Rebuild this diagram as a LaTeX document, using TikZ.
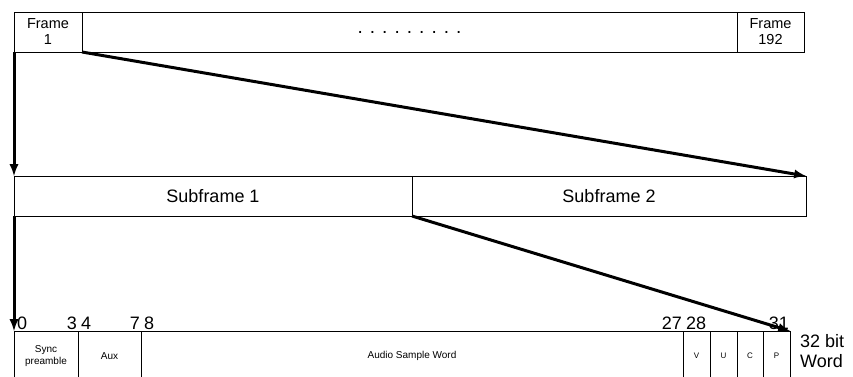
\documentclass[tikz,border=0pt]{standalone}
\usepackage{fontspec}
\setmainfont{Liberation Sans}
\usetikzlibrary{arrows}
\usetikzlibrary{positioning}

\tikzset{
  cell/.style={draw, line width=0.8pt, inner sep=0pt, outer sep=0pt, align=center},
  framebox/.style={cell, minimum height=40pt, font=\fontsize{14.5}{16}\selectfont},
  subbox/.style={cell, minimum height=40pt, font=\fontsize{18}{20}\selectfont},
  bitbox/.style={cell, minimum height=50pt, font=\fontsize{10}{12}\selectfont},
  flagbox/.style={bitbox, font=\fontsize{8}{10}\selectfont},
  bitno/.style={inner xsep=3pt, inner ysep=1pt, font=\fontsize{18}{20}\selectfont},
  link/.style={-latex, line width=3pt},
}

\begin{document}
\begin{tikzpicture}[x=1pt, y=-1pt]
        \clip (0,0) rectangle (853,376);

        % frames
        \node[framebox, minimum width=68pt, anchor=north west] (frame1) at (14,12) {Frame\\1};
        \node[framebox, minimum width=655pt, font=\fontsize{19}{20}\selectfont] (dots) [right=0pt of frame1] {. . . . . . . . .};
        \node[framebox, minimum width=67pt] (frame192) [right=0pt of dots] {Frame\\192};

        % subframes
        \node[subbox, minimum width=398pt, anchor=north west] (sub1) at (14,176) {Subframe 1};
        \node[subbox, minimum width=394pt] (sub2) [right=0pt of sub1] {Subframe 2};

        % 32 bit word
        \node[bitbox, minimum width=64pt, anchor=north west] (sync) at (14,331) {Sync\\preamble};
        \node[bitbox, minimum width=63pt] (aux) [right=0pt of sync] {Aux};
        \node[bitbox, minimum width=542pt] (audio) [right=0pt of aux] {Audio Sample Word};
        \node[flagbox, minimum width=27pt] (valid) [right=0pt of audio] {V};
        \node[flagbox, minimum width=27pt] (user) [right=0pt of valid] {U};
        \node[flagbox, minimum width=26pt] (chan) [right=0pt of user] {C};
        \node[flagbox, minimum width=27pt] (parity) [right=0pt of chan] {P};

        \node[bitno, anchor=south west] (b0) at (sync.north west) {0};
        \node[bitno, anchor=south east, inner xsep=1pt] (b3) at (sync.north east) {3};
        \node[bitno, anchor=south west] (b4) at (aux.north west) {4};
        \node[bitno, anchor=south east, inner xsep=1pt] (b7) at (aux.north east) {7};
        \node[bitno, anchor=south west] (b8) at (audio.north west) {8};
        \node[bitno, anchor=south east, inner xsep=1pt] (b27) at (audio.north east) {27};
        \node[bitno, anchor=south west] (b28) at (valid.north west) {28};
        \node[bitno, anchor=south east, inner xsep=1pt] (b31) at (parity.north east) {31};

        \node[bitno, inner sep=0pt, align=left, anchor=north west] (wordlen)
             at ([xshift=10pt, yshift=-3pt]parity.north east) {32 bit\\Word};

        \draw[link] (frame1.south west) -- (sub1.north west);
        \draw[link] (frame1.south east) -- (sub2.north east);
        \draw[link] (sub1.south west) -- (sync.north west);
        \draw[link] (sub1.south east) -- (parity.north east);
\end{tikzpicture}
\end{document}
